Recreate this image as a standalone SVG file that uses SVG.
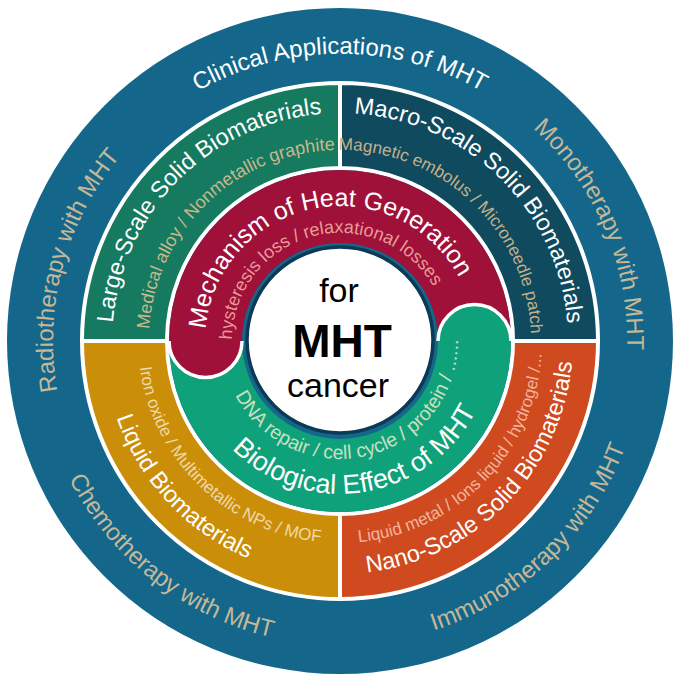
<svg xmlns="http://www.w3.org/2000/svg" width="685" height="685" viewBox="0 0 685 685">
<style>
text { font-family: "Liberation Sans", Arial, sans-serif; }
.outer { font-size: 24px; fill: #c5b898; }
.qt { font-size: 23.5px; fill: #ffffff; }
.qs { font-size: 17.5px; }
.it { font-size: 25px; fill: #ffffff; }
.is { font-size: 18px; }
.q { stroke: #ffffff; stroke-width: 4; }
.cap { stroke: #ffffff; stroke-width: 3.5; }
</style>
<defs>
<path id="p-clin" d="M57.4,390.8 A287,287 0 1 1 622.6,390.8"/>
<path id="p-mono" d="M183.7,100.3 A287,287 0 1 1 404.6,620.6"/>
<path id="p-radio" d="M315,626.9 A287,287 0 1 1 461.3,80.9"/>
<path id="p-immu" d="M87.4,510.1 A304,304 0 1 0 519.5,95.7"/>
<path id="p-chemo" d="M136.6,115.1 A304,304 0 1 0 608.4,483.7"/>
<path id="p-large" d="M209.2,527.8 A228,228 0 1 1 526.8,210.2"/>
<path id="p-medical" d="M227.7,495.5 A191,191 0 1 1 498.3,234.2"/>
<path id="p-macro" d="M152.3,211.5 A228,228 0 1 1 472.1,526.8"/>
<path id="p-magnetic" d="M181.1,235 A191,191 0 1 1 453.1,494.9"/>
<path id="p-nano" d="M150.8,477 A233,233 0 1 0 471.3,148.5"/>
<path id="p-liqmetal" d="M176.2,459.2 A202,202 0 1 0 453.5,173.9"/>
<path id="p-liquid" d="M211.5,143.1 A236,236 0 1 0 528.5,483"/>
<path id="p-iron" d="M221.3,177.6 A202,202 0 1 0 507.5,454"/>
<path id="p-mech" d="M214.4,390.5 A135,135 0 1 1 475,337.5"/>
<path id="p-hyst" d="M242,386.3 A108,108 0 1 1 447.6,332"/>
<path id="p-bio" d="M187,338.3 A153,153 0 1 0 484.7,291.2"/>
<path id="p-dna" d="M222.3,349.2 A118,118 0 1 0 447.8,293"/>
</defs>

<g id="clinical-applications">
<circle cx="340" cy="341" r="333" fill="#14678a"/>
<text class="outer" style="fill:#ffffff"><textPath href="#p-clin" startOffset="50%" text-anchor="middle">Clinical Applications of MHT</textPath></text>
<text class="outer"><textPath href="#p-mono" startOffset="50%" text-anchor="middle">Monotherapy with MHT</textPath></text>
<text class="outer"><textPath href="#p-radio" startOffset="50%" text-anchor="middle">Radiotherapy with MHT</textPath></text>
<text class="outer"><textPath href="#p-immu" startOffset="50%" text-anchor="middle">Immunotherapy with MHT</textPath></text>
<text class="outer"><textPath href="#p-chemo" startOffset="50%" text-anchor="middle">Chemotherapy with MHT</textPath></text>
</g>

<g id="large-scale">
<path class="q" fill="#157a5f" d="M82,341 A258,258 0 0 1 340,83 L340,168 A173,173 0 0 0 167,341 Z"/>
<text class="qt"><textPath href="#p-large" startOffset="50%" text-anchor="middle">Large-Scale Solid Biomaterials</textPath></text>
<text class="qs" style="fill:#c8b88e;font-size:18px"><textPath href="#p-medical" startOffset="50%" text-anchor="middle">Medical alloy / Nonmetallic graphite</textPath></text>
</g>

<g id="macro-scale">
<path class="q" fill="#0f4a5f" d="M340,83 A258,258 0 0 1 598,341 L513,341 A173,173 0 0 0 340,168 Z"/>
<text class="qt"><textPath href="#p-macro" startOffset="50%" text-anchor="middle">Macro-Scale Solid Biomaterials</textPath></text>
<text class="qs" style="fill:#c4b08a;font-size:17.2px"><textPath href="#p-magnetic" startOffset="50%" text-anchor="middle">Magnetic embolus / Microneedle patch</textPath></text>
</g>

<g id="nano-scale">
<path class="q" fill="#cf4a1f" d="M598,341 A258,258 0 0 1 340,599 L340,514 A173,173 0 0 0 513,341 Z"/>
<text class="qt"><textPath href="#p-nano" startOffset="50%" text-anchor="middle">Nano-Scale Solid Biomaterials</textPath></text>
<text class="qs" style="fill:#f2b49c;font-size:17px"><textPath href="#p-liqmetal" startOffset="50%" text-anchor="middle">Liquid metal / Ions liquid / hydrogel /...</textPath></text>
</g>

<g id="liquid">
<path class="q" fill="#cb8e08" d="M340,599 A258,258 0 0 1 82,341 L167,341 A173,173 0 0 0 340,514 Z"/>
<text class="qt"><textPath href="#p-liquid" startOffset="50%" text-anchor="middle">Liquid Biomaterials</textPath></text>
<text class="qs" style="fill:#f0d8a8;font-size:17px"><textPath href="#p-iron" startOffset="50%" text-anchor="middle">Iron oxide / Multimetallic NPs / MOF</textPath></text>
</g>

<g id="biological-effect">
<path fill="#0fa27a" d="M169,341 A171,171 0 0 0 511,341 L438,341 A98,98 0 0 1 242,341 Z"/>
</g>

<g id="heat-generation">
<path fill="#a0113a" d="M169,341 A171,171 0 0 1 511,341 L438,341 A98,98 0 0 0 242,341 Z"/>
<path class="cap" fill="#a0113a" d="M242,341 A36.5,36.5 0 0 1 169,341"/>
<text class="it"><textPath href="#p-mech" startOffset="50%" text-anchor="middle">Mechanism of Heat Generation</textPath></text>
<text class="is" style="fill:#e89c98"><textPath href="#p-hyst" startOffset="50%" text-anchor="middle">hysteresis loss / relaxational losses</textPath></text>
</g>

<g id="biological-effect-cap">
<path class="cap" fill="#0fa27a" d="M511,341 A36.5,36.5 0 0 0 438,341"/>
<text class="it" style="font-size:27px"><textPath href="#p-bio" startOffset="50%" text-anchor="middle">Biological Effect of MHT</textPath></text>
<text class="is" style="fill:#c8e0c0;font-size:19.5px"><textPath href="#p-dna" startOffset="50%" text-anchor="middle">DNA repair / cell cycle / protein / ......</textPath></text>
</g>

<g id="center">
<circle cx="340" cy="340" r="93" fill="#ffffff" stroke="#0c3a55" stroke-width="3.5"/>
<text x="339" y="302" font-size="34" text-anchor="middle" fill="#000000">for</text>
<text x="342" y="357" font-size="46" font-weight="bold" text-anchor="middle" fill="#000000">MHT</text>
<text x="338" y="397" font-size="34" text-anchor="middle" fill="#000000">cancer</text>
</g>
</svg>
